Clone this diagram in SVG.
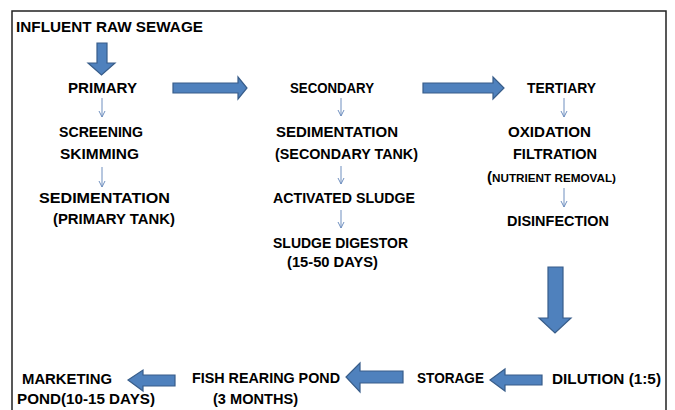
<svg xmlns="http://www.w3.org/2000/svg" width="675" height="410" viewBox="0 0 675 410">
<defs>
<style>
.t{font-family:"Liberation Sans",Arial,sans-serif;font-weight:bold;font-size:15px;fill:#000}
.blk{fill:#4F81BD;stroke:#385D8A;stroke-width:1.2}
.thin{stroke:#6F8FBF;stroke-width:1;fill:none}
</style>
<marker id="v" markerWidth="8" markerHeight="8" refX="7" refY="4" orient="auto" markerUnits="userSpaceOnUse" viewBox="0 0 8 8">
<path d="M1,1 L7,4 L1,7" fill="none" stroke="#6F8FBF" stroke-width="1"/>
</marker>
</defs>
<rect width="675" height="410" fill="#fff"/>
<path d="M12,410 V11 H666 V410" fill="none" stroke="#222" stroke-width="1.5"/>

<g id="connectors">
<polygon class="blk" points="97,43 107,43 107,63 115,63 101.5,75 88,63 97,63"/>
<polygon class="blk" points="173,83 238,83 238,77 247,88 238,99 238,93 173,93"/>
<polygon class="blk" points="423,83 493,83 493,77 504,88 493,99 493,93 423,93"/>
<polygon class="blk" points="548,267 563,267 563,318 571,318 555,333 539,318 548,318"/>
<polygon class="blk" points="403,371 360,371 360,363 346,377 360,392 360,383 403,383"/>
<polygon class="blk" points="542,375 505,375 505,369 490,380 505,391 505,385 542,385"/>
<polygon class="blk" points="175,375 143,375 143,370 128,380 143,391 143,386 175,386"/>
<path class="thin" marker-end="url(#v)" d="M102,98 V117"/>
<path class="thin" marker-end="url(#v)" d="M341,98 V116"/>
<path class="thin" marker-end="url(#v)" d="M564,98 V117"/>
<path class="thin" marker-end="url(#v)" d="M102,167 V187"/>
<path class="thin" marker-end="url(#v)" d="M341,166 V184"/>
<path class="thin" marker-end="url(#v)" d="M341,210 V228"/>
<path class="thin" marker-end="url(#v)" d="M564,188 V207"/>
</g>

<g id="influent"><text class="t" x="16" y="32" textLength="187" lengthAdjust="spacingAndGlyphs">INFLUENT RAW SEWAGE</text></g>
<g id="primary"><text class="t" x="68" y="93" textLength="69" lengthAdjust="spacingAndGlyphs">PRIMARY</text></g>
<g id="secondary"><text class="t" x="290" y="93" textLength="84" lengthAdjust="spacingAndGlyphs">SECONDARY</text></g>
<g id="tertiary"><text class="t" x="527" y="93" textLength="69" lengthAdjust="spacingAndGlyphs">TERTIARY</text></g>
<g id="screening">
<text class="t" x="59" y="137" textLength="84" lengthAdjust="spacingAndGlyphs">SCREENING</text>
<text class="t" x="60" y="159" textLength="79" lengthAdjust="spacingAndGlyphs">SKIMMING</text>
</g>
<g id="sed-primary">
<text class="t" x="39" y="203" textLength="131" lengthAdjust="spacingAndGlyphs">SEDIMENTATION</text>
<text class="t" x="53" y="224" textLength="122" lengthAdjust="spacingAndGlyphs">(PRIMARY TANK)</text>
</g>
<g id="sed-secondary">
<text class="t" x="276" y="137" textLength="122" lengthAdjust="spacingAndGlyphs">SEDIMENTATION</text>
<text class="t" x="275" y="159" textLength="143" lengthAdjust="spacingAndGlyphs">(SECONDARY TANK)</text>
</g>
<g id="activated"><text class="t" x="273" y="203" textLength="142" lengthAdjust="spacingAndGlyphs">ACTIVATED SLUDGE</text></g>
<g id="digestor">
<text class="t" x="273" y="248" textLength="135" lengthAdjust="spacingAndGlyphs">SLUDGE DIGESTOR</text>
<text class="t" x="287" y="267" textLength="91" lengthAdjust="spacingAndGlyphs">(15-50 DAYS)</text>
</g>
<g id="oxidation">
<text class="t" x="508" y="137" textLength="83" lengthAdjust="spacingAndGlyphs">OXIDATION</text>
<text class="t" x="513" y="159" textLength="84" lengthAdjust="spacingAndGlyphs">FILTRATION</text>
<text class="t" x="487" y="182"><tspan>(</tspan><tspan font-size="11" textLength="124" lengthAdjust="spacingAndGlyphs">NUTRIENT REMOVAL)</tspan></text>
</g>
<g id="disinfection"><text class="t" x="507" y="226" textLength="102" lengthAdjust="spacingAndGlyphs">DISINFECTION</text></g>
<g id="dilution"><text class="t" x="552" y="384" textLength="109" lengthAdjust="spacingAndGlyphs">DILUTION (1:5)</text></g>
<g id="storage"><text class="t" x="417" y="383" textLength="67" lengthAdjust="spacingAndGlyphs">STORAGE</text></g>
<g id="fish">
<text class="t" x="192" y="383" textLength="148" lengthAdjust="spacingAndGlyphs">FISH REARING POND</text>
<text class="t" x="213" y="404" textLength="85" lengthAdjust="spacingAndGlyphs">(3 MONTHS)</text>
</g>
<g id="marketing">
<text class="t" x="22" y="384" textLength="90" lengthAdjust="spacingAndGlyphs">MARKETING</text>
<text class="t" x="17" y="404" textLength="138" lengthAdjust="spacingAndGlyphs">POND(10-15 DAYS)</text>
</g>
</svg>
